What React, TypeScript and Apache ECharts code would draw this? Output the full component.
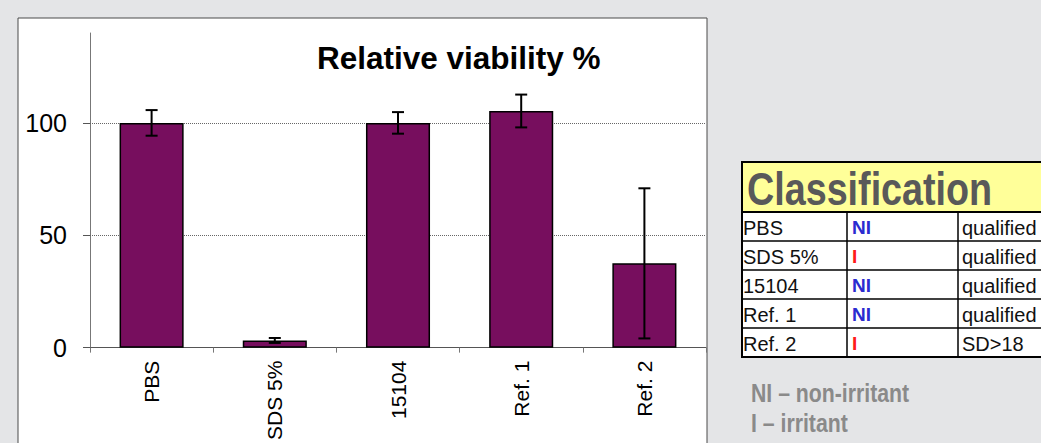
import React, { useEffect, useRef } from "react";
import * as echarts from "echarts";

const categories = ["PBS", "SDS 5%", "15104", "Ref. 1", "Ref. 2"];
const viability = [100, 3.2, 100, 105.3, 37.5];
const sdValues = [5.7, 1.1, 4.8, 7.3, 33.4];
const yTicks = [0, 50, 100];

const tableNames = ["PBS", "SDS 5%", "15104", "Ref. 1", "Ref. 2"];
const tableClass = ["NI", "I", "NI", "NI", "I"];
const tableNotes = ["qualified", "qualified", "qualified", "qualified", "SD>18"];
const footnotes = ["NI \u2013 non-irritant", "I \u2013 irritant"];

const FONT = "'Liberation Sans', Arial, sans-serif";

export default function App() {
  const ref = useRef<HTMLDivElement>(null);
  useEffect(() => {
    const chart = echarts.init(ref.current!, null, { renderer: "svg" });

    const tLeft = 742;
    const tTop = 162;
    const headerBottom = 212;
    const rowH = 29;
    const colX = [742, 847, 958, 1070];
    const tBottom = headerBottom + rowH * tableNames.length;

    const graphics: any[] = [
      {
        type: "rect",
        z: -10,
        shape: { x: 18, y: 18, width: 689, height: 440 },
        style: { fill: "#ffffff", stroke: "#4a4a4a", lineWidth: 1 },
      },
      {
        type: "rect",
        z: 10,
        shape: { x: tLeft, y: tTop, width: 330, height: tBottom - tTop },
        style: { fill: "#ffffff", stroke: "#000", lineWidth: 2 },
      },
      {
        type: "rect",
        z: 11,
        shape: { x: tLeft, y: tTop, width: 330, height: headerBottom - tTop },
        style: { fill: "#ffff99", stroke: "#000", lineWidth: 2 },
      },
      {
        type: "text",
        z: 12,
        x: 747,
        y: 189,
        scaleX: 0.82,
        style: {
          text: "Classification",
          font: `bold 46px ${FONT}`,
          fill: "#595959",
          verticalAlign: "middle",
        },
      },
    ];
    for (let i = 0; i < tableNames.length; i++) {
      const y0 = headerBottom + rowH * i;
      graphics.push({
        type: "line",
        z: 12,
        shape: { x1: tLeft, y1: y0 + rowH, x2: 1070, y2: y0 + rowH },
        style: { stroke: "#000", lineWidth: i === tableNames.length - 1 ? 2 : 1.5 },
      });
      const cy = y0 + rowH / 2 + 1;
      graphics.push({
        type: "text",
        z: 12,
        x: 743,
        y: cy,
        style: { text: tableNames[i], font: `20px ${FONT}`, fill: "#111", verticalAlign: "middle" },
      });
      graphics.push({
        type: "text",
        z: 12,
        x: 852,
        y: cy,
        style: {
          text: tableClass[i],
          font: `bold 19px ${FONT}`,
          fill: tableClass[i] === "NI" ? "#2b2bd0" : "#ff1a1a",
          verticalAlign: "middle",
        },
      });
      graphics.push({
        type: "text",
        z: 12,
        x: 962,
        y: cy,
        style: { text: tableNotes[i], font: `20px ${FONT}`, fill: "#111", verticalAlign: "middle" },
      });
    }
    for (let c = 1; c < colX.length - 1; c++) {
      graphics.push({
        type: "line",
        z: 12,
        shape: { x1: colX[c], y1: headerBottom, x2: colX[c], y2: tBottom },
        style: { stroke: "#000", lineWidth: 1.5 },
      });
    }
    footnotes.forEach((t, i) => {
      graphics.push({
        type: "text",
        z: 12,
        x: 751,
        y: 393 + i * 30,
        scaleX: 0.85,
        style: { text: t, font: `bold 25px ${FONT}`, fill: "#8a8a8a", verticalAlign: "middle" },
      });
    });

    chart.setOption({
      animation: false,
      backgroundColor: "#e4e5e7",
      title: {
        text: "Relative viability %",
        left: 317,
        top: 42,
        padding: 0,
        textStyle: { fontFamily: FONT, fontSize: 31.5, fontWeight: "bold", color: "#000" },
      },
      grid: { left: 90, right: 335, top: 33, bottom: 93, containLabel: false },
      xAxis: {
        type: "category",
        data: categories,
        boundaryGap: true,
        axisLine: { lineStyle: { color: "#555", width: 1 } },
        axisTick: { show: true, length: 5, alignWithLabel: false, lineStyle: { color: "#777" } },
        axisLabel: { rotate: 90, margin: 13, fontSize: 21, fontFamily: FONT, color: "#000" },
      },
      yAxis: {
        type: "value",
        min: 0,
        max: 140,
        interval: 50,
        axisLine: { show: true, lineStyle: { color: "#777", width: 1 } },
        axisTick: { show: true, length: 7, customValues: yTicks, lineStyle: { color: "#555" } },
        axisLabel: {
          customValues: yTicks,
          margin: 23,
          fontSize: 25,
          fontFamily: FONT,
          color: "#000",
        },
        splitLine: { show: false },
      },
      series: [
        {
          type: "bar",
          data: viability,
          barWidth: "52%",
          itemStyle: { color: "#770e5e", borderColor: "#000", borderWidth: 1.5 },
          markLine: {
            silent: true,
            symbol: "none",
            label: { show: false },
            lineStyle: { color: "#666", type: [1, 1], width: 1 },
            data: yTicks.filter((v) => v > 0).map((v) => ({ yAxis: v })),
            z: 1,
          },
        },
        {
          type: "custom",
          z: 5,
          data: categories.map((_, i) => [i, viability[i] - sdValues[i], viability[i] + sdValues[i]]),
          renderItem: (params: any, api: any) => {
            const x = api.value(0);
            const lo = api.coord([x, api.value(1)]);
            const hi = api.coord([x, api.value(2)]);
            const h = 6;
            const style = { stroke: "#000", lineWidth: 2 };
            return {
              type: "group",
              children: [
                { type: "line", shape: { x1: lo[0], y1: lo[1], x2: hi[0], y2: hi[1] }, style },
                { type: "line", shape: { x1: lo[0] - h, y1: lo[1], x2: lo[0] + h, y2: lo[1] }, style },
                { type: "line", shape: { x1: hi[0] - h, y1: hi[1], x2: hi[0] + h, y2: hi[1] }, style },
              ],
            };
          },
        },
      ],
      graphic: graphics,
    });
    return () => chart.dispose();
  }, []);
  return (
    <div
      ref={ref}
      style={{ position: "fixed", left: 0, top: 0, width: 1041, height: 443 }}
    />
  );
}
